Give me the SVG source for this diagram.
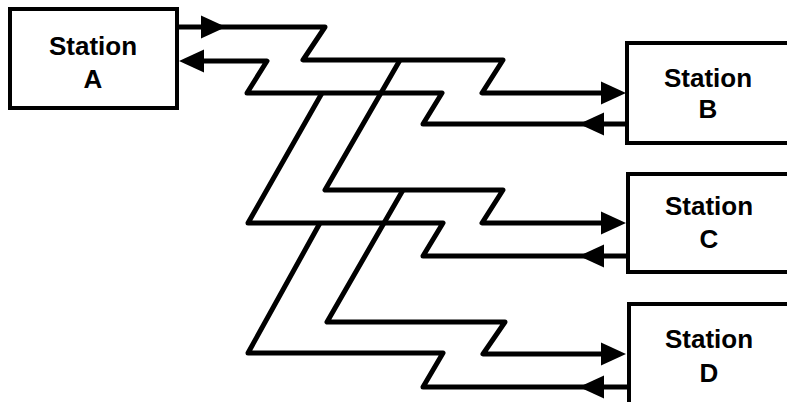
<svg xmlns="http://www.w3.org/2000/svg" xmlns:xlink="http://www.w3.org/1999/xlink" width="787" height="402" viewBox="0 0 787 402">
  <style>
    .box { fill: #ffffff; stroke: #000000; stroke-width: 4; }
    .lbl { font-family: "Liberation Sans", Arial, sans-serif; font-weight: bold; font-size: 26px; fill: #000000; text-anchor: middle; }
    .wire { fill: none; stroke: #000000; stroke-width: 5; stroke-linejoin: round; stroke-linecap: butt; }
    .ah { fill: #000000; }
  </style>
  <defs>
    <path id="ah" class="ah" d="M0,0 L-25,-11.5 L-25,11.5 Z"/>
  </defs>
  <rect width="787" height="402" fill="#ffffff"/>

  <g id="connectors">
    <!-- A out to B, with branches to C and D -->
    <polyline class="wire" points="178,27 325,27 303,60 503,60 482,93 608,93"/>
    <polyline class="wire" points="400,60 325,190 503,190 482,223 608,223"/>
    <polyline class="wire" points="403,190 327,322 505,322 483,354 608,354"/>
    <!-- B, C, D out to A -->
    <polyline class="wire" points="627,124 423,124 442,93 247,93 267,61 195,61"/>
    <polyline class="wire" points="628,256 423,256 443,223 248,223 322,93"/>
    <polyline class="wire" points="629,387 423,387 443,353 248,353 320,223"/>
    <!-- arrowheads -->
    <use xlink:href="#ah" href="#ah" transform="translate(226,27)"/>
    <use xlink:href="#ah" href="#ah" transform="translate(626,93)"/>
    <use xlink:href="#ah" href="#ah" transform="translate(626,223)"/>
    <use xlink:href="#ah" href="#ah" transform="translate(626,354)"/>
    <use xlink:href="#ah" href="#ah" transform="translate(179,61) rotate(180)"/>
    <use xlink:href="#ah" href="#ah" transform="translate(579,124) rotate(180)"/>
    <use xlink:href="#ah" href="#ah" transform="translate(579,256) rotate(180)"/>
    <use xlink:href="#ah" href="#ah" transform="translate(579,387) rotate(180)"/>
  </g>

  <g id="station-a">
    <rect class="box" x="10" y="9" width="167" height="99"/>
    <text class="lbl" x="93" y="55">Station</text>
    <text class="lbl" x="93" y="88">A</text>
  </g>
  <g id="station-b">
    <rect class="box" x="627" y="43" width="180" height="100"/>
    <text class="lbl" x="708" y="87">Station</text>
    <text class="lbl" x="708" y="118">B</text>
  </g>
  <g id="station-c">
    <rect class="box" x="628" y="174" width="180" height="98"/>
    <text class="lbl" x="709" y="215">Station</text>
    <text class="lbl" x="709" y="248">C</text>
  </g>
  <g id="station-d">
    <rect class="box" x="629" y="304" width="180" height="120"/>
    <text class="lbl" x="709" y="348">Station</text>
    <text class="lbl" x="709" y="382">D</text>
  </g>
</svg>
